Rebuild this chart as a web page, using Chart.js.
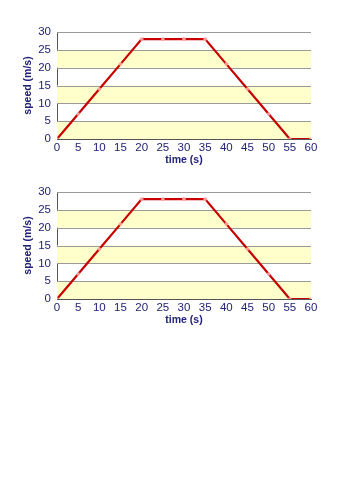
<!DOCTYPE html>
<html><head><meta charset="utf-8">
<script src="https://cdn.jsdelivr.net/npm/chart.js@4/dist/chart.umd.min.js"></script>
<style>
html,body{margin:0;padding:0;background:#fff;width:353px;height:500px;overflow:hidden}
.box{position:absolute;left:0;width:353px;height:170px}
</style></head><body>
<div class="box" style="top:0"><canvas id="c1" width="353" height="170"></canvas></div>
<div class="box" style="top:160px"><canvas id="c2" width="353" height="170"></canvas></div>
<script>
const times = [0,5,10,15,20,25,30,35,40,45,50,55,60];
const speeds = [0,7,14,21,28,28,28,28,21,14,7,0,0];
const xTicks = [0,5,10,15,20,25,30,35,40,45,50,55,60];
const yTicks = [0,5,10,15,20,25,30];
const yellowBands = [[0,5],[10,15],[20,25]];
const xTitle = 'time (s)';
const yTitle = 'speed (m/s)';

const navy = '#22227a';
const bandPlugin = {
  id:'bands',
  beforeDatasetsDraw(chart){
    const {ctx, chartArea:a, scales:{y}} = chart;
    ctx.save();
    ctx.fillStyle = '#ffffcc';
    yellowBands.forEach(([lo,hi])=>{
      const t = y.getPixelForValue(hi), b = y.getPixelForValue(lo);
      ctx.fillRect(a.left, t, a.right-a.left, b-t);
    });
    ctx.strokeStyle = '#9a9a9a'; ctx.lineWidth = 1;
    yTicks.forEach(v=>{
      if (v===0) return;
      const p = Math.round(y.getPixelForValue(v))+0.5;
      ctx.beginPath(); ctx.moveTo(a.left,p); ctx.lineTo(a.right,p); ctx.stroke();
    });
    ctx.restore();
  }
};

function make(id){
  new Chart(document.getElementById(id), {
    type:'line',
    data:{datasets:[{
      data: times.map((t,i)=>({x:t,y:speeds[i]})),
      borderColor:'#c80000', borderWidth:2.2,
      pointRadius:1.8, pointBackgroundColor:'#ff9a9a', pointBorderWidth:0,
      tension:0
    }]},
    options:{
      responsive:false, animation:false, devicePixelRatio:1,
      layout:{padding:{left:22,right:42,top:32,bottom:4}},
      plugins:{legend:{display:false},tooltip:{enabled:false}},
      scales:{
        x:{type:'linear',min:0,max:60,
          afterBuildTicks(s){s.ticks = xTicks.map(v=>({value:v}));},
          afterFit(s){s.height = 27;},
          grid:{display:false,drawTicks:true,tickLength:2},
          border:{display:true,color:'#555',width:1},
          ticks:{color:navy,font:{family:'Liberation Sans, Arial',size:11.5},padding:0,maxRotation:0,autoSkip:false},
          title:{display:true,text:xTitle,color:navy,font:{family:'Liberation Sans, Arial',size:10.5,weight:'bold'},padding:{top:0,bottom:0}}
        },
        y:{min:0,max:30,
          afterBuildTicks(s){s.ticks = yTicks.map(v=>({value:v}));},
          afterFit(s){s.width = 35;},
          grid:{display:false,drawTicks:false},
          border:{display:true,color:'#555',width:1},
          ticks:{color:navy,font:{family:'Liberation Sans, Arial',size:11.5},padding:6},
          title:{display:true,text:yTitle,color:navy,font:{family:'Liberation Sans, Arial',size:10.5,weight:'bold'},padding:{top:0,bottom:0}}
        }
      }
    },
    plugins:[bandPlugin]
  });
}
make('c1'); make('c2');
</script>
</body></html>
